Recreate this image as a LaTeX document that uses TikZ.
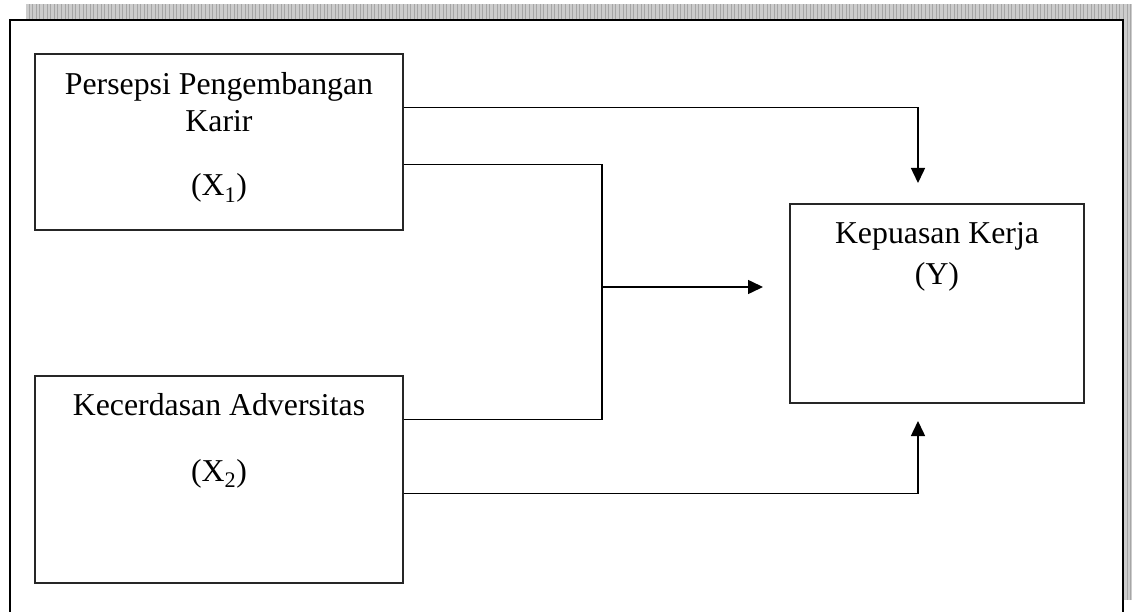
\documentclass[tikz,border=0pt]{standalone}
\usepackage{fontspec}
\setmainfont{Liberation Serif}
\usetikzlibrary{arrows.meta,calc}
\begin{document}
\begin{tikzpicture}[x=1pt,y=-1pt,
  vbox/.style={draw=black!85,line width=1.4pt,inner sep=0pt,fill=white},
  lbl/.style={anchor=base,inner sep=0pt,font=\fontsize{31.8}{38}\selectfont},
  line/.style={draw=black,line width=1.5pt},
  conn/.style={line,-{Triangle[length=15pt,width=14pt]}}]
\useasboundingbox (0,0) rectangle (1132,612);
% shadow of the frame
\fill[gray!40] (26,4) rectangle (1132,600);
\begin{scope}
  \clip (26,4) rectangle (1132,600);
  \draw[gray!70,line width=0.5pt,step=3.6] (26,4) grid (1132,600);
\end{scope}
% frame
\fill[white] (10,20) rectangle (1123,612);
\draw[line width=2.4pt] (10,612) -- (10,20) -- (1123,20) -- (1123,612);
% boxes
\node[vbox,minimum width=368pt,minimum height=176pt] (b1) at (219,142) {};
\node[vbox,minimum width=368pt,minimum height=207pt] (b2) at (219,479.5) {};
\node[vbox,minimum width=294pt,minimum height=199pt] (bY) at (937,303.5) {};
% texts
\node[lbl] (t1a) at (219,95) {Persepsi Pengembangan};
\node[lbl] (t1b) at (219,132) {Karir};
\node[lbl] (t1c) at (219,196) {(X\textsubscript{1})};
\node[lbl] (t2a) at (219,415) {Kecerdasan Adversitas};
\node[lbl] (t2b) at (219,481) {(X\textsubscript{2})};
\node[lbl] (tYa) at (937,244) {Kepuasan Kerja};
\node[lbl] (tYb) at (937,284) {(Y)};
% connector ends
\coordinate (a1) at (918,183);
\coordinate (j) at (602,287);
\coordinate (a2) at (763,287);
\coordinate (a3) at (918,421);
% connectors
\draw[conn] ($(b1.north east)+(0,54)$) -| (a1);
\draw[line] ($(b1.north east)+(0,111)$) -| (j) |- ($(b2.north east)+(0,44)$);
\draw[conn] (j) -- (a2);
\draw[conn] ($(b2.north east)+(0,118)$) -| (a3);
\end{tikzpicture}
\end{document}
